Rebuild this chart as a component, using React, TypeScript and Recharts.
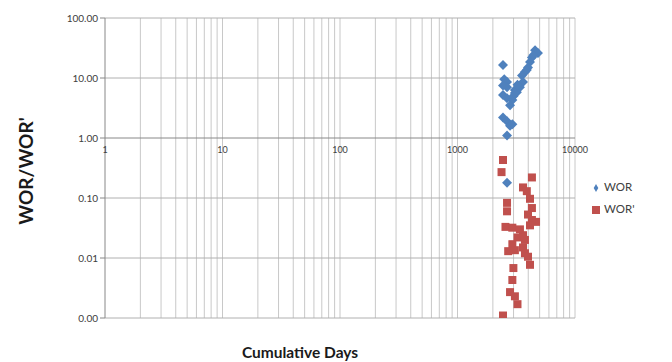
import React from "react";
import {
  ScatterChart,
  Scatter,
  XAxis,
  YAxis,
  ZAxis,
  ReferenceLine,
  ReferenceDot,
  Legend,
} from "recharts";

// WOR points (cumulative days, ratio)
const worDays = [2440, 4570, 4840, 4300, 4140, 3980, 3750, 3540, 3610, 3400, 3080, 2640, 2640, 2440, 2640, 2930, 2800, 2440, 2640, 2800, 2640, 2640, 3000, 3200, 2500, 3080, 3240, 4420, 3890, 2930, 2440];
const worVals = [16.5, 29, 26, 22, 18.5, 15, 12.6, 11, 8.6, 7, 6.3, 8.6, 7, 5.2, 4.6, 4.3, 3.5, 2.2, 1.9, 1.6, 1.1, 0.18, 5.0, 5.8, 9.5, 5.6, 7.7, 24, 13.6, 1.7, 7.5];

// WOR' points
const worpDays = [2440, 2370, 4300, 3610, 3890, 4140, 2640, 4300, 3980, 4660, 4300, 2560, 2930, 3400, 3610, 3240, 2930, 3610, 3080, 3750, 3980, 4140, 2990, 2930, 2800, 3080, 3240, 2440, 2640, 4140, 3750, 2700];
const worpVals = [0.43, 0.27, 0.22, 0.15, 0.13, 0.097, 0.083, 0.068, 0.053, 0.04, 0.043, 0.033, 0.032, 0.03, 0.024, 0.022, 0.017, 0.015, 0.0135, 0.012, 0.0105, 0.0077, 0.0068, 0.0043, 0.0027, 0.0023, 0.0017, 0.0011, 0.06, 0.035, 0.02, 0.013];

const xTicks = [1, 10, 100, 1000, 10000];
const yTicks = [0.001, 0.01, 0.1, 1, 10, 100];
const xGrid = [2, 3, 4, 5, 6, 7, 8, 9, 10, 20, 30, 40, 50, 60, 70, 80, 90, 100, 200, 300, 400, 500, 600, 700, 800, 900, 1000, 2000, 3000, 4000, 5000, 6000, 7000, 8000, 9000, 10000];

const worData = worDays.map((d, i) => ({ x: d, y: worVals[i] }));
const worpData = worpDays.map((d, i) => ({ x: d, y: worpVals[i] }));

const FONT = "Lato, 'Open Sans', sans-serif";

// rotated square, a bit more even than recharts' tall diamond
function Diamond(props: any) {
  const { cx, cy, fill } = props;
  const r = 5;
  return <polygon points={`${cx},${cy - r} ${cx + r},${cy} ${cx},${cy + r} ${cx - r},${cy}`} fill={fill} />;
}

export default function App() {
  return (
    <div style={{ position: "absolute", left: 0, top: 0, background: "#fff" }}>
      <ScatterChart width={672} height={362} margin={{ top: 18, right: 97, bottom: 0, left: 0 }}>
        <XAxis
          dataKey="x"
          type="number"
          scale="log"
          domain={[1, 10000]}
          allowDataOverflow
          tick={false}
          axisLine={false}
          tickLine={false}
          height={44}
          label={{
            value: "Cumulative Days",
            position: "insideBottom",
            offset: 4,
            dx: -40,
            style: { fontFamily: FONT, fontWeight: 700, fontSize: 15.5, fill: "#1a1a1a" },
          }}
        />
        <YAxis
          dataKey="y"
          type="number"
          scale="log"
          domain={[0.001, 100]}
          allowDataOverflow
          ticks={yTicks}
          tickFormatter={(v: number) => v.toFixed(2)}
          width={105}
          tick={{ fill: "#404040", fontSize: 10, fontFamily: FONT }}
          tickLine={{ stroke: "#888" }}
          tickSize={5}
          axisLine={{ stroke: "#888" }}
          label={{
            value: "WOR/WOR'",
            angle: -90,
            position: "insideLeft",
            offset: 26,
            dy: 3,
            style: { fontFamily: FONT, fontWeight: 700, fontSize: 19, fill: "#1a1a1a", textAnchor: "middle" },
          }}
        />
        <ZAxis range={[50, 50]} />
        {xGrid.map((v) => (
          <ReferenceLine key={"gx" + v} x={v} stroke="#c8c8c8" strokeWidth={1} />
        ))}
        {yTicks.map((v) => (
          <ReferenceLine key={"gy" + v} y={v} stroke={v === 1 ? "#888" : "#b0b0b0"} strokeWidth={1} />
        ))}
        {xTicks.map((v) => (
          <ReferenceDot
            key={"xt" + v}
            x={v}
            y={1}
            r={0}
            stroke="none"
            fill="none"
            label={{ value: String(v), position: "bottom", offset: 9, style: { fontSize: 9, fill: "#404040", fontFamily: FONT } }}
          />
        ))}
        <Legend
          layout="vertical"
          align="center"
          verticalAlign="middle"
          iconSize={8}
          wrapperStyle={{ left: 592, top: 176, width: 80, fontFamily: FONT, fontSize: 11.5, lineHeight: "22px" }}
          formatter={(value: string) => <span style={{ color: "#404040" }}>{value}</span>}
        />
        <Scatter name="WOR" data={worData} fill="#4f81bd" shape={Diamond} legendType="diamond" isAnimationActive={false} />
        <Scatter name="WOR'" data={worpData} fill="#c0504d" shape="square" legendType="square" isAnimationActive={false} />
      </ScatterChart>
    </div>
  );
}
